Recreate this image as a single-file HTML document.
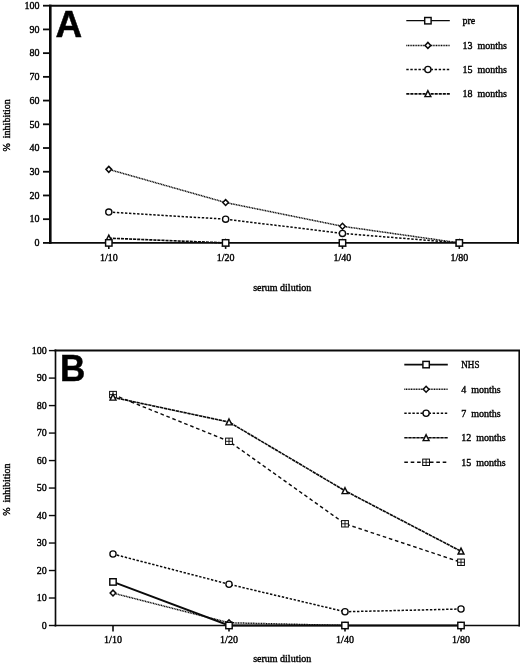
<!DOCTYPE html>
<html lang="en"><head><meta charset="utf-8"><title>Figure: % inhibition vs serum dilution</title>
<style>html,body{margin:0;padding:0;background:#fff}svg{display:block;filter:grayscale(1)}text{white-space:pre}</style></head><body>
<svg width="520" height="664" viewBox="0 0 520 664">
<rect width="520" height="664" fill="#fff"/>
<g id="chartA">
<line x1="43.00" y1="242.90" x2="50.30" y2="242.90" stroke="#0a0a0a" stroke-width="1.8"/>
<text x="39.60" y="246.20" text-anchor="end" font-size="10" font-family="'Liberation Serif', serif" stroke="#000" stroke-width="0.38">0</text>
<line x1="43.00" y1="219.18" x2="50.30" y2="219.18" stroke="#0a0a0a" stroke-width="1.8"/>
<text x="39.60" y="222.48" text-anchor="end" font-size="10" font-family="'Liberation Serif', serif" stroke="#000" stroke-width="0.38">10</text>
<line x1="43.00" y1="195.46" x2="50.30" y2="195.46" stroke="#0a0a0a" stroke-width="1.8"/>
<text x="39.60" y="198.76" text-anchor="end" font-size="10" font-family="'Liberation Serif', serif" stroke="#000" stroke-width="0.38">20</text>
<line x1="43.00" y1="171.74" x2="50.30" y2="171.74" stroke="#0a0a0a" stroke-width="1.8"/>
<text x="39.60" y="175.04" text-anchor="end" font-size="10" font-family="'Liberation Serif', serif" stroke="#000" stroke-width="0.38">30</text>
<line x1="43.00" y1="148.02" x2="50.30" y2="148.02" stroke="#0a0a0a" stroke-width="1.8"/>
<text x="39.60" y="151.32" text-anchor="end" font-size="10" font-family="'Liberation Serif', serif" stroke="#000" stroke-width="0.38">40</text>
<line x1="43.00" y1="124.30" x2="50.30" y2="124.30" stroke="#0a0a0a" stroke-width="1.8"/>
<text x="39.60" y="127.60" text-anchor="end" font-size="10" font-family="'Liberation Serif', serif" stroke="#000" stroke-width="0.38">50</text>
<line x1="43.00" y1="100.58" x2="50.30" y2="100.58" stroke="#0a0a0a" stroke-width="1.8"/>
<text x="39.60" y="103.88" text-anchor="end" font-size="10" font-family="'Liberation Serif', serif" stroke="#000" stroke-width="0.38">60</text>
<line x1="43.00" y1="76.86" x2="50.30" y2="76.86" stroke="#0a0a0a" stroke-width="1.8"/>
<text x="39.60" y="80.16" text-anchor="end" font-size="10" font-family="'Liberation Serif', serif" stroke="#000" stroke-width="0.38">70</text>
<line x1="43.00" y1="53.14" x2="50.30" y2="53.14" stroke="#0a0a0a" stroke-width="1.8"/>
<text x="39.60" y="56.44" text-anchor="end" font-size="10" font-family="'Liberation Serif', serif" stroke="#000" stroke-width="0.38">80</text>
<line x1="43.00" y1="29.42" x2="50.30" y2="29.42" stroke="#0a0a0a" stroke-width="1.8"/>
<text x="39.60" y="32.72" text-anchor="end" font-size="10" font-family="'Liberation Serif', serif" stroke="#000" stroke-width="0.38">90</text>
<line x1="43.00" y1="5.70" x2="50.30" y2="5.70" stroke="#0a0a0a" stroke-width="1.8"/>
<text x="39.60" y="9.00" text-anchor="end" font-size="10" font-family="'Liberation Serif', serif" stroke="#000" stroke-width="0.38">100</text>
<line x1="108.80" y1="242.90" x2="108.80" y2="248.90" stroke="#0a0a0a" stroke-width="1.6"/>
<text x="108.80" y="260.70" text-anchor="middle" font-size="10" font-family="'Liberation Serif', serif" stroke="#000" stroke-width="0.38">1/10</text>
<line x1="225.63" y1="242.90" x2="225.63" y2="248.90" stroke="#0a0a0a" stroke-width="1.6"/>
<text x="225.63" y="260.70" text-anchor="middle" font-size="10" font-family="'Liberation Serif', serif" stroke="#000" stroke-width="0.38">1/20</text>
<line x1="342.47" y1="242.90" x2="342.47" y2="248.90" stroke="#0a0a0a" stroke-width="1.6"/>
<text x="342.47" y="260.70" text-anchor="middle" font-size="10" font-family="'Liberation Serif', serif" stroke="#000" stroke-width="0.38">1/40</text>
<line x1="459.30" y1="242.90" x2="459.30" y2="248.90" stroke="#0a0a0a" stroke-width="1.6"/>
<text x="459.30" y="260.70" text-anchor="middle" font-size="10" font-family="'Liberation Serif', serif" stroke="#000" stroke-width="0.38">1/80</text>
<polyline points="108.80,238.16 225.63,242.90" fill="none" stroke="#0a0a0a" stroke-width="1.65" stroke-dasharray="3.1 0.95"/>
<polyline points="108.80,212.06 225.63,219.18 342.47,233.41 459.30,242.90" fill="none" stroke="#0a0a0a" stroke-width="1.5" stroke-dasharray="2.4 1.65"/>
<polyline points="108.80,169.37 225.63,202.58 342.47,226.30 459.30,242.90" fill="none" stroke="#0a0a0a" stroke-width="1.5" stroke-dasharray="1.05 0.6"/>
<line x1="50.30" y1="4.70" x2="50.30" y2="243.80" stroke="#0a0a0a" stroke-width="2.6"/>
<line x1="49.30" y1="5.70" x2="519.00" y2="5.70" stroke="#0a0a0a" stroke-width="2"/>
<line x1="518.00" y1="5.70" x2="518.00" y2="243.80" stroke="#0a0a0a" stroke-width="2"/>
<line x1="49.30" y1="242.90" x2="519.00" y2="242.90" stroke="#0a0a0a" stroke-width="1.8"/>
<path d="M108.80 235.06L111.75 240.96L105.85 240.96Z" fill="#fff" stroke="#0a0a0a" stroke-width="1.45" stroke-linejoin="miter"/>
<path d="M225.63 239.80L228.58 245.70L222.68 245.70Z" fill="#fff" stroke="#0a0a0a" stroke-width="1.45" stroke-linejoin="miter"/>
<path d="M342.47 239.80L345.42 245.70L339.52 245.70Z" fill="#fff" stroke="#0a0a0a" stroke-width="1.45" stroke-linejoin="miter"/>
<path d="M459.30 239.80L462.25 245.70L456.35 245.70Z" fill="#fff" stroke="#0a0a0a" stroke-width="1.45" stroke-linejoin="miter"/>
<circle cx="108.80" cy="212.06" r="3.1" fill="#fff" stroke="#0a0a0a" stroke-width="1.35"/>
<circle cx="225.63" cy="219.18" r="3.1" fill="#fff" stroke="#0a0a0a" stroke-width="1.35"/>
<circle cx="342.47" cy="233.41" r="3.1" fill="#fff" stroke="#0a0a0a" stroke-width="1.35"/>
<circle cx="459.30" cy="242.90" r="3.1" fill="#fff" stroke="#0a0a0a" stroke-width="1.35"/>
<path d="M105.95 169.37L108.80 166.42L111.65 169.37L108.80 172.32Z" fill="#fff" stroke="#0a0a0a" stroke-width="1.5"/>
<path d="M222.78 202.58L225.63 199.63L228.48 202.58L225.63 205.53Z" fill="#fff" stroke="#0a0a0a" stroke-width="1.5"/>
<path d="M339.62 226.30L342.47 223.35L345.32 226.30L342.47 229.25Z" fill="#fff" stroke="#0a0a0a" stroke-width="1.5"/>
<path d="M456.45 242.90L459.30 239.95L462.15 242.90L459.30 245.85Z" fill="#fff" stroke="#0a0a0a" stroke-width="1.5"/>
<rect x="105.60" y="239.70" width="6.4" height="6.4" fill="#fff" stroke="#0a0a0a" stroke-width="1.45"/>
<rect x="222.43" y="239.70" width="6.4" height="6.4" fill="#fff" stroke="#0a0a0a" stroke-width="1.45"/>
<rect x="339.27" y="239.70" width="6.4" height="6.4" fill="#fff" stroke="#0a0a0a" stroke-width="1.45"/>
<rect x="456.10" y="239.70" width="6.4" height="6.4" fill="#fff" stroke="#0a0a0a" stroke-width="1.45"/>
<text transform="translate(55.6 36.6) scale(1 1)" font-size="36.9" font-weight="bold" font-family="'Liberation Sans', sans-serif" stroke="#000" stroke-width="0.5">A</text>
<line x1="406.3" y1="20.7" x2="449.8" y2="20.7" stroke="#0a0a0a" stroke-width="1.3"/>
<rect x="424.70" y="17.50" width="6.4" height="6.4" fill="#fff" stroke="#0a0a0a" stroke-width="1.45"/>
<text x="462.4" y="24.10" font-size="10" font-family="'Liberation Serif', serif" stroke="#000" stroke-width="0.38" xml:space="preserve">pre</text>
<line x1="406.3" y1="45.4" x2="449.8" y2="45.4" stroke="#0a0a0a" stroke-width="1.5" stroke-dasharray="1.05 0.6"/>
<path d="M425.05 45.40L427.90 42.45L430.75 45.40L427.90 48.35Z" fill="#fff" stroke="#0a0a0a" stroke-width="1.5"/>
<text x="462.4" y="48.80" font-size="10" font-family="'Liberation Serif', serif" stroke="#000" stroke-width="0.38" xml:space="preserve">13  months</text>
<line x1="406.3" y1="69.5" x2="449.8" y2="69.5" stroke="#0a0a0a" stroke-width="1.5" stroke-dasharray="2.4 1.65"/>
<circle cx="427.90" cy="69.50" r="3.1" fill="#fff" stroke="#0a0a0a" stroke-width="1.35"/>
<text x="462.4" y="72.90" font-size="10" font-family="'Liberation Serif', serif" stroke="#000" stroke-width="0.38" xml:space="preserve">15  months</text>
<line x1="406.3" y1="93.8" x2="449.8" y2="93.8" stroke="#0a0a0a" stroke-width="1.65" stroke-dasharray="3.1 0.95"/>
<path d="M427.90 90.70L430.85 96.60L424.95 96.60Z" fill="#fff" stroke="#0a0a0a" stroke-width="1.45" stroke-linejoin="miter"/>
<text x="462.4" y="97.20" font-size="10" font-family="'Liberation Serif', serif" stroke="#000" stroke-width="0.38" xml:space="preserve">18  months</text>
<text transform="translate(10.3 125.4) rotate(-90)" text-anchor="middle" font-size="10" font-family="'Liberation Serif', serif" stroke="#000" stroke-width="0.38" xml:space="preserve">%  inhibition</text>
<text x="282.2" y="290.6" text-anchor="middle" font-size="10" font-family="'Liberation Serif', serif" stroke="#000" stroke-width="0.38">serum dilution</text>
</g>
<g id="chartB">
<line x1="48.90" y1="625.50" x2="55.50" y2="625.50" stroke="#0a0a0a" stroke-width="1.4"/>
<text x="46.80" y="628.80" text-anchor="end" font-size="10" font-family="'Liberation Serif', serif" stroke="#000" stroke-width="0.38">0</text>
<line x1="48.90" y1="598.01" x2="55.50" y2="598.01" stroke="#0a0a0a" stroke-width="1.4"/>
<text x="46.80" y="601.31" text-anchor="end" font-size="10" font-family="'Liberation Serif', serif" stroke="#000" stroke-width="0.38">10</text>
<line x1="48.90" y1="570.52" x2="55.50" y2="570.52" stroke="#0a0a0a" stroke-width="1.4"/>
<text x="46.80" y="573.82" text-anchor="end" font-size="10" font-family="'Liberation Serif', serif" stroke="#000" stroke-width="0.38">20</text>
<line x1="48.90" y1="543.03" x2="55.50" y2="543.03" stroke="#0a0a0a" stroke-width="1.4"/>
<text x="46.80" y="546.33" text-anchor="end" font-size="10" font-family="'Liberation Serif', serif" stroke="#000" stroke-width="0.38">30</text>
<line x1="48.90" y1="515.54" x2="55.50" y2="515.54" stroke="#0a0a0a" stroke-width="1.4"/>
<text x="46.80" y="518.84" text-anchor="end" font-size="10" font-family="'Liberation Serif', serif" stroke="#000" stroke-width="0.38">40</text>
<line x1="48.90" y1="488.05" x2="55.50" y2="488.05" stroke="#0a0a0a" stroke-width="1.4"/>
<text x="46.80" y="491.35" text-anchor="end" font-size="10" font-family="'Liberation Serif', serif" stroke="#000" stroke-width="0.38">50</text>
<line x1="48.90" y1="460.56" x2="55.50" y2="460.56" stroke="#0a0a0a" stroke-width="1.4"/>
<text x="46.80" y="463.86" text-anchor="end" font-size="10" font-family="'Liberation Serif', serif" stroke="#000" stroke-width="0.38">60</text>
<line x1="48.90" y1="433.07" x2="55.50" y2="433.07" stroke="#0a0a0a" stroke-width="1.4"/>
<text x="46.80" y="436.37" text-anchor="end" font-size="10" font-family="'Liberation Serif', serif" stroke="#000" stroke-width="0.38">70</text>
<line x1="48.90" y1="405.58" x2="55.50" y2="405.58" stroke="#0a0a0a" stroke-width="1.4"/>
<text x="46.80" y="408.88" text-anchor="end" font-size="10" font-family="'Liberation Serif', serif" stroke="#000" stroke-width="0.38">80</text>
<line x1="48.90" y1="378.09" x2="55.50" y2="378.09" stroke="#0a0a0a" stroke-width="1.4"/>
<text x="46.80" y="381.39" text-anchor="end" font-size="10" font-family="'Liberation Serif', serif" stroke="#000" stroke-width="0.38">90</text>
<line x1="48.90" y1="350.60" x2="55.50" y2="350.60" stroke="#0a0a0a" stroke-width="1.4"/>
<text x="46.80" y="353.90" text-anchor="end" font-size="10" font-family="'Liberation Serif', serif" stroke="#000" stroke-width="0.38">100</text>
<line x1="113.00" y1="625.50" x2="113.00" y2="631.50" stroke="#0a0a0a" stroke-width="1.6"/>
<text x="113.00" y="642.70" text-anchor="middle" font-size="10" font-family="'Liberation Serif', serif" stroke="#000" stroke-width="0.38">1/10</text>
<line x1="229.00" y1="625.50" x2="229.00" y2="631.50" stroke="#0a0a0a" stroke-width="1.6"/>
<text x="229.00" y="642.70" text-anchor="middle" font-size="10" font-family="'Liberation Serif', serif" stroke="#000" stroke-width="0.38">1/20</text>
<line x1="345.00" y1="625.50" x2="345.00" y2="631.50" stroke="#0a0a0a" stroke-width="1.6"/>
<text x="345.00" y="642.70" text-anchor="middle" font-size="10" font-family="'Liberation Serif', serif" stroke="#000" stroke-width="0.38">1/40</text>
<line x1="461.00" y1="625.50" x2="461.00" y2="631.50" stroke="#0a0a0a" stroke-width="1.6"/>
<text x="461.00" y="642.70" text-anchor="middle" font-size="10" font-family="'Liberation Serif', serif" stroke="#000" stroke-width="0.38">1/80</text>
<polyline points="113.00,394.58 229.00,441.32 345.00,523.79 461.00,562.27" fill="none" stroke="#0a0a0a" stroke-width="1.4" stroke-dasharray="3.6 2.8"/>
<polyline points="113.00,397.33 229.00,422.07 345.00,490.80 461.00,551.28" fill="none" stroke="#0a0a0a" stroke-width="1.6" stroke-dasharray="3.4 0.6"/>
<polyline points="113.00,554.03 229.00,584.26 345.00,611.75 461.00,609.01" fill="none" stroke="#0a0a0a" stroke-width="1.5" stroke-dasharray="2.4 1.65"/>
<polyline points="113.00,593.06 229.00,622.75 345.00,625.50" fill="none" stroke="#0a0a0a" stroke-width="1.5" stroke-dasharray="1.05 0.6"/>
<polyline points="113.00,581.93 229.00,625.50 345.00,625.50 461.00,625.50" fill="none" stroke="#0a0a0a" stroke-width="1.9"/>
<line x1="55.50" y1="349.60" x2="55.50" y2="626.40" stroke="#0a0a0a" stroke-width="1.65"/>
<line x1="54.50" y1="350.60" x2="520.40" y2="350.60" stroke="#0a0a0a" stroke-width="2"/>
<line x1="519.40" y1="350.60" x2="519.40" y2="626.40" stroke="#0a0a0a" stroke-width="2"/>
<line x1="54.50" y1="625.50" x2="520.40" y2="625.50" stroke="#0a0a0a" stroke-width="1.6"/>
<rect x="109.60" y="391.38" width="6.8" height="6.4" fill="#fff" stroke="#0a0a0a" stroke-width="1"/><path d="M113.00 391.38V397.78M109.60 394.58H116.40" stroke="#0a0a0a" stroke-width="0.9" fill="none"/>
<rect x="225.60" y="438.12" width="6.8" height="6.4" fill="#fff" stroke="#0a0a0a" stroke-width="1"/><path d="M229.00 438.12V444.52M225.60 441.32H232.40" stroke="#0a0a0a" stroke-width="0.9" fill="none"/>
<rect x="341.60" y="520.59" width="6.8" height="6.4" fill="#fff" stroke="#0a0a0a" stroke-width="1"/><path d="M345.00 520.59V526.99M341.60 523.79H348.40" stroke="#0a0a0a" stroke-width="0.9" fill="none"/>
<rect x="457.60" y="559.07" width="6.8" height="6.4" fill="#fff" stroke="#0a0a0a" stroke-width="1"/><path d="M461.00 559.07V565.47M457.60 562.27H464.40" stroke="#0a0a0a" stroke-width="0.9" fill="none"/>
<path d="M113.00 394.23L115.95 400.13L110.05 400.13Z" fill="#fff" stroke="#0a0a0a" stroke-width="1.45" stroke-linejoin="miter"/>
<path d="M229.00 418.97L231.95 424.87L226.05 424.87Z" fill="#fff" stroke="#0a0a0a" stroke-width="1.45" stroke-linejoin="miter"/>
<path d="M345.00 487.70L347.95 493.60L342.05 493.60Z" fill="#fff" stroke="#0a0a0a" stroke-width="1.45" stroke-linejoin="miter"/>
<path d="M461.00 548.18L463.95 554.08L458.05 554.08Z" fill="#fff" stroke="#0a0a0a" stroke-width="1.45" stroke-linejoin="miter"/>
<circle cx="113.00" cy="554.03" r="3.1" fill="#fff" stroke="#0a0a0a" stroke-width="1.35"/>
<circle cx="229.00" cy="584.26" r="3.1" fill="#fff" stroke="#0a0a0a" stroke-width="1.35"/>
<circle cx="345.00" cy="611.75" r="3.1" fill="#fff" stroke="#0a0a0a" stroke-width="1.35"/>
<circle cx="461.00" cy="609.01" r="3.1" fill="#fff" stroke="#0a0a0a" stroke-width="1.35"/>
<path d="M110.15 593.06L113.00 590.11L115.85 593.06L113.00 596.01Z" fill="#fff" stroke="#0a0a0a" stroke-width="1.5"/>
<path d="M226.15 622.75L229.00 619.80L231.85 622.75L229.00 625.70Z" fill="#fff" stroke="#0a0a0a" stroke-width="1.5"/>
<path d="M342.15 625.50L345.00 622.55L347.85 625.50L345.00 628.45Z" fill="#fff" stroke="#0a0a0a" stroke-width="1.5"/>
<path d="M458.15 625.50L461.00 622.55L463.85 625.50L461.00 628.45Z" fill="#fff" stroke="#0a0a0a" stroke-width="1.5"/>
<rect x="109.80" y="578.73" width="6.4" height="6.4" fill="#fff" stroke="#0a0a0a" stroke-width="1.45"/>
<rect x="225.80" y="622.30" width="6.4" height="6.4" fill="#fff" stroke="#0a0a0a" stroke-width="1.45"/>
<rect x="341.80" y="622.30" width="6.4" height="6.4" fill="#fff" stroke="#0a0a0a" stroke-width="1.45"/>
<rect x="457.80" y="622.30" width="6.4" height="6.4" fill="#fff" stroke="#0a0a0a" stroke-width="1.45"/>
<text transform="translate(59.9 381.4) scale(0.95 1)" font-size="36.9" font-weight="bold" font-family="'Liberation Sans', sans-serif" stroke="#000" stroke-width="0.5">B</text>
<line x1="404.3" y1="364.6" x2="447.8" y2="364.6" stroke="#0a0a0a" stroke-width="1.9"/>
<rect x="422.90" y="361.40" width="6.4" height="6.4" fill="#fff" stroke="#0a0a0a" stroke-width="1.45"/>
<text x="461.3" y="368.40" font-size="10" font-family="'Liberation Serif', serif" stroke="#000" stroke-width="0.38" xml:space="preserve" textLength="18.2" lengthAdjust="spacingAndGlyphs">NHS</text>
<line x1="404.3" y1="389.3" x2="447.8" y2="389.3" stroke="#0a0a0a" stroke-width="1.5" stroke-dasharray="1.05 0.6"/>
<path d="M423.25 389.30L426.10 386.35L428.95 389.30L426.10 392.25Z" fill="#fff" stroke="#0a0a0a" stroke-width="1.5"/>
<text x="461.3" y="392.70" font-size="10" font-family="'Liberation Serif', serif" stroke="#000" stroke-width="0.38" xml:space="preserve">4  months</text>
<line x1="404.3" y1="413.3" x2="447.8" y2="413.3" stroke="#0a0a0a" stroke-width="1.5" stroke-dasharray="2.4 1.65"/>
<circle cx="426.10" cy="413.30" r="3.1" fill="#fff" stroke="#0a0a0a" stroke-width="1.35"/>
<text x="461.3" y="416.70" font-size="10" font-family="'Liberation Serif', serif" stroke="#000" stroke-width="0.38" xml:space="preserve">7  months</text>
<line x1="404.3" y1="437.8" x2="447.8" y2="437.8" stroke="#0a0a0a" stroke-width="1.6" stroke-dasharray="3.4 0.6"/>
<path d="M426.10 434.70L429.05 440.60L423.15 440.60Z" fill="#fff" stroke="#0a0a0a" stroke-width="1.45" stroke-linejoin="miter"/>
<text x="461.3" y="441.20" font-size="10" font-family="'Liberation Serif', serif" stroke="#000" stroke-width="0.38" xml:space="preserve">12  months</text>
<line x1="404.3" y1="462.3" x2="447.8" y2="462.3" stroke="#0a0a0a" stroke-width="1.4" stroke-dasharray="3.6 2.8"/>
<rect x="422.70" y="459.10" width="6.8" height="6.4" fill="#fff" stroke="#0a0a0a" stroke-width="1"/><path d="M426.10 459.10V465.50M422.70 462.30H429.50" stroke="#0a0a0a" stroke-width="0.9" fill="none"/>
<text x="461.3" y="465.70" font-size="10" font-family="'Liberation Serif', serif" stroke="#000" stroke-width="0.38" xml:space="preserve">15  months</text>
<text transform="translate(10.3 489.7) rotate(-90)" text-anchor="middle" font-size="10" font-family="'Liberation Serif', serif" stroke="#000" stroke-width="0.38" xml:space="preserve">%  inhibition</text>
<text x="282.2" y="661.5" text-anchor="middle" font-size="10" font-family="'Liberation Serif', serif" stroke="#000" stroke-width="0.38">serum dilution</text>
</g>
</svg></body></html>
